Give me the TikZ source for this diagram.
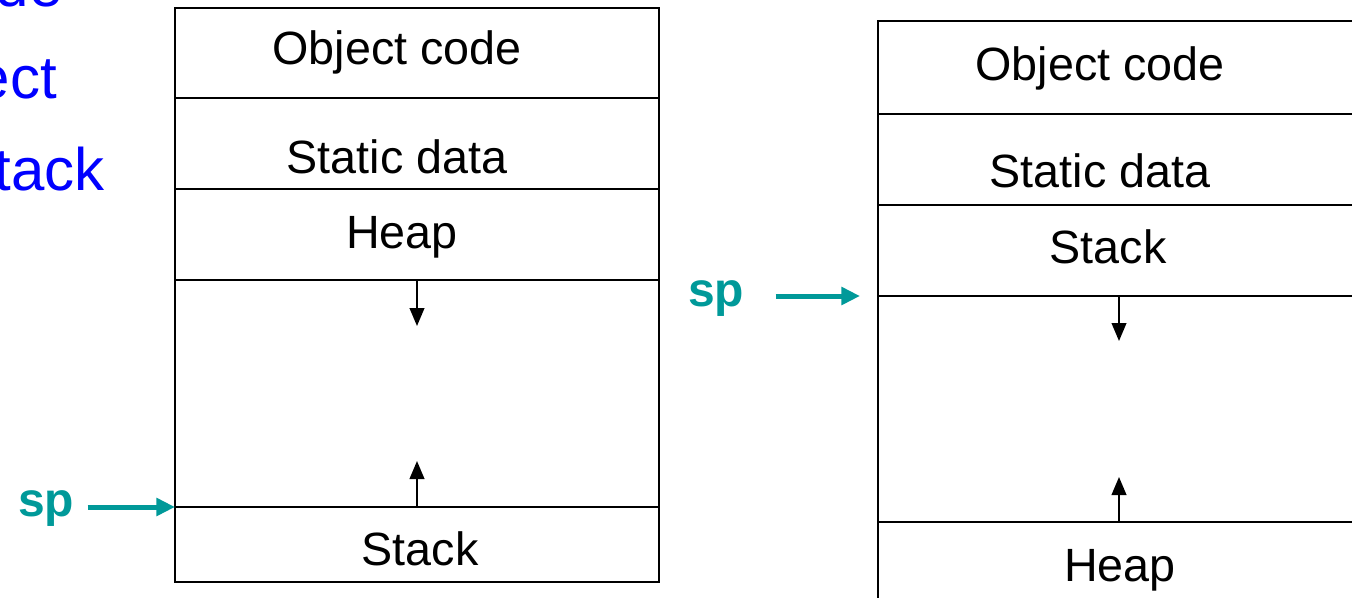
\documentclass[tikz,border=0pt]{standalone}
\usepackage{fontspec}
\setmainfont{Liberation Sans}
\usetikzlibrary{arrows.meta}
\definecolor{spteal}{RGB}{0,153,153}
\definecolor{listblue}{RGB}{0,0,255}
\begin{document}
\begin{tikzpicture}[x=0.75pt,y=-0.75pt,
  seg/.style={draw=black, line width=1.5pt, rectangle, inner sep=0pt, outer sep=0pt},
  lbl/.style={font=\fontsize{35}{42}\selectfont, anchor=base, inner sep=0pt},
  growarrow/.style={line width=1.5pt, -{Triangle[length=13.5pt,width=11pt]}},
  spl/.style={font=\bfseries\fontsize{36}{42}\selectfont, text=spteal, anchor=base west, inner sep=0pt},
  sparrow/.style={draw=spteal, line width=3.75pt, -{Triangle[length=14pt,width=13pt]}},
  listitem/.style={font=\fontsize{45}{54}\selectfont, text=listblue, anchor=base east, inner sep=0pt}]
\useasboundingbox (0,0) rectangle (1352,597);
\clip (0,0) rectangle (1352,597);

% list text running in from the left
\node[listitem] (itemA) at (63,6) {de};
\node[listitem] (itemB) at (57,98) {ect};
\node[listitem] (itemC) at (105,190) {tack};

% left memory layout
\node[seg, minimum width=363pt, minimum height=67.5pt]  (codeL)  at (417,53)    {};
\node[seg, minimum width=363pt, minimum height=68.25pt] (dataL)  at (417,143.5) {};
\node[seg, minimum width=363pt, minimum height=68.25pt] (heapL)  at (417,234.5) {};
\node[seg, minimum width=363pt, minimum height=170.25pt] (freeL) at (417,393.5) {};
\node[seg, minimum width=363pt, minimum height=56.25pt] (stackL) at (417,544.5) {};

\node[lbl] (codeLt)  at (397,64)  {Object code};
\node[lbl] (dataLt)  at (397,173) {Static data};
\node[lbl] (heapLt)  at (402,248) {Heap};
\node[lbl] (stackLt) at (420,565) {Stack};

\coordinate (downL) at (417,326);
\coordinate (upL)   at (417,461);
\draw[growarrow] (freeL.north) -- (downL);
\draw[growarrow] (freeL.south) -- (upL);

\node[spl] (spL) at (18,516) {sp};
\draw[sparrow, shorten <=9.75pt] (spL.east |- stackL.north west) -- (stackL.north west);

% right memory layout
\node[seg, minimum width=405pt, minimum height=69.75pt] (codeR)  at (1148,67.5)  {};
\node[seg, minimum width=405pt, minimum height=68.25pt] (dataR)  at (1148,159.5) {};
\node[seg, minimum width=405pt, minimum height=68.25pt] (stackR) at (1148,250.5) {};
\node[seg, minimum width=405pt, minimum height=169.5pt] (freeR)  at (1148,409)   {};
\node[seg, minimum width=405pt, minimum height=67.5pt]  (heapR)  at (1148,567)   {};

\node[lbl] (codeRt)  at (1100,80)  {Object code};
\node[lbl] (dataRt)  at (1100,187) {Static data};
\node[lbl] (stackRt) at (1108,263) {Stack};
\node[lbl] (heapRt)  at (1120,581) {Heap};

\coordinate (downR) at (1119,341);
\coordinate (upR)   at (1119,477);
\draw[growarrow] (freeR.north -| downR) -- (downR);
\draw[growarrow] (freeR.south -| upR) -- (upR);

\node[spl] (spR) at (688,306) {sp};
\draw[sparrow, shorten <=23.25pt, shorten >=13.5pt] (spR.east |- freeR.north west) -- (freeR.north west);
\end{tikzpicture}
\end{document}
